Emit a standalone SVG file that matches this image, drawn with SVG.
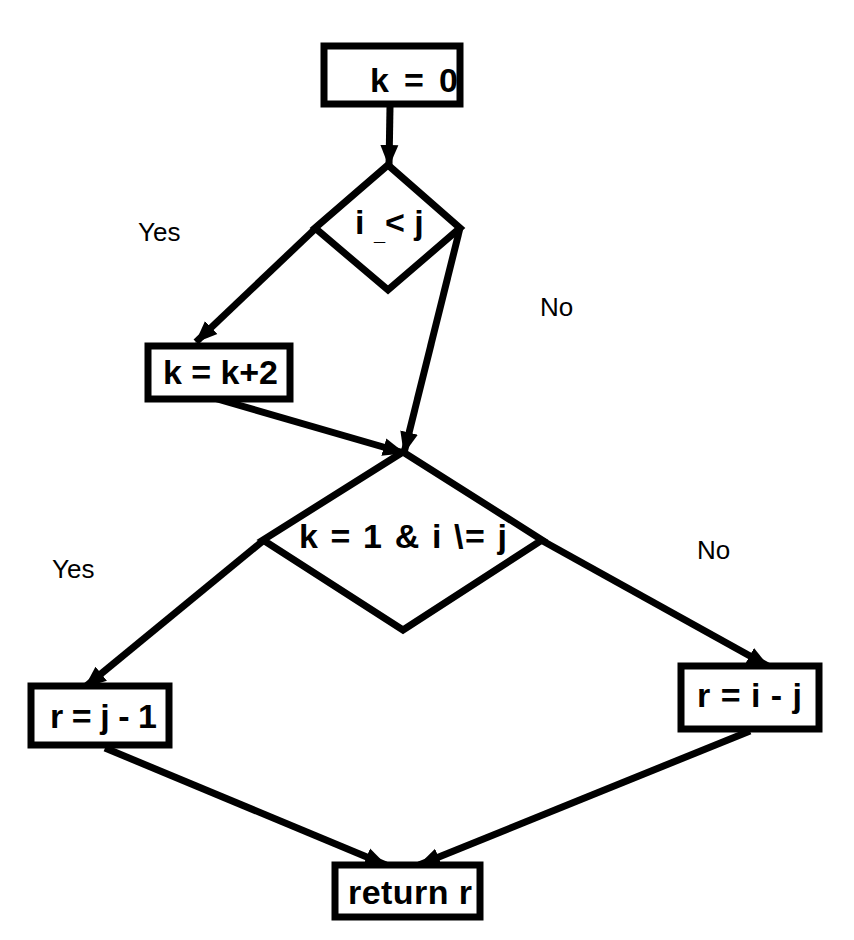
<svg xmlns="http://www.w3.org/2000/svg" width="854" height="940" viewBox="0 0 854 940">
<style>
.box{fill:#fff;stroke:#000;stroke-width:7}
.lbl{font-family:"Liberation Sans",Arial,sans-serif;font-weight:bold;font-size:34px;fill:#000}
.yn{font-family:"Liberation Sans",Arial,sans-serif;font-size:26px;fill:#000}
.edge{stroke:#000;stroke-width:7;fill:none;marker-end:url(#ah)}
</style>
<defs>
<marker id="ah" markerUnits="userSpaceOnUse" markerWidth="24" markerHeight="20" refX="21" refY="10" orient="auto">
<path d="M0,1 L22,10 L0,19 Z" fill="#000"/>
</marker>
</defs>
<rect width="854" height="940" fill="#fff"/>
<g id="connectors">
<line class="edge" x1="390" y1="107" x2="389" y2="166"/>
<line class="edge" x1="316" y1="228" x2="196" y2="342"/>
<line class="edge" x1="460" y1="228" x2="404" y2="453"/>
<line class="edge" x1="207" y1="396" x2="404" y2="453"/>
<line class="edge" x1="264" y1="540" x2="85" y2="687"/>
<line class="edge" x1="541" y1="540" x2="768" y2="666"/>
<line class="edge" x1="105" y1="748" x2="386" y2="865"/>
<line class="edge" x1="750" y1="731" x2="419" y2="865"/>
</g>
<g id="n_k0">
<rect class="box" x="324" y="46" width="136" height="58"/>
<text class="lbl" x="370" y="92" textLength="88" lengthAdjust="spacing">k = 0</text>
</g>
<g id="n_d1">
<polygon class="box" points="388,165 460,228 388,290 315,228"/>
<text class="lbl" x="355" y="234"><tspan>i </tspan><tspan font-size="20" dy="6">_</tspan><tspan dy="-6">&lt; j</tspan></text>
</g>
<g id="n_k2">
<rect class="box" x="148" y="346" width="142" height="53"/>
<text class="lbl" x="163" y="384" textLength="115" lengthAdjust="spacing">k = k+2</text>
</g>
<g id="n_d2">
<polygon class="box" points="403,452 542,540 403,630 263,540"/>
<text class="lbl" x="299" y="548" textLength="208" lengthAdjust="spacing">k = 1  &amp;  i \= j</text>
</g>
<g id="n_rj">
<rect class="box" x="31" y="686" width="138" height="59"/>
<text class="lbl" x="50" y="728" textLength="107" lengthAdjust="spacing">r = j - 1</text>
</g>
<g id="n_ri">
<rect class="box" x="681" y="666" width="138" height="63"/>
<text class="lbl" x="697" y="707" textLength="105" lengthAdjust="spacing">r = i - j</text>
</g>
<g id="n_ret">
<rect class="box" x="335" y="865" width="145" height="52"/>
<text class="lbl" x="348" y="904" textLength="124" lengthAdjust="spacing">return r</text>
</g>
<text class="yn" x="138" y="241">Yes</text>
<text class="yn" x="540" y="316">No</text>
<text class="yn" x="52" y="578">Yes</text>
<text class="yn" x="697" y="559">No</text>
</svg>
